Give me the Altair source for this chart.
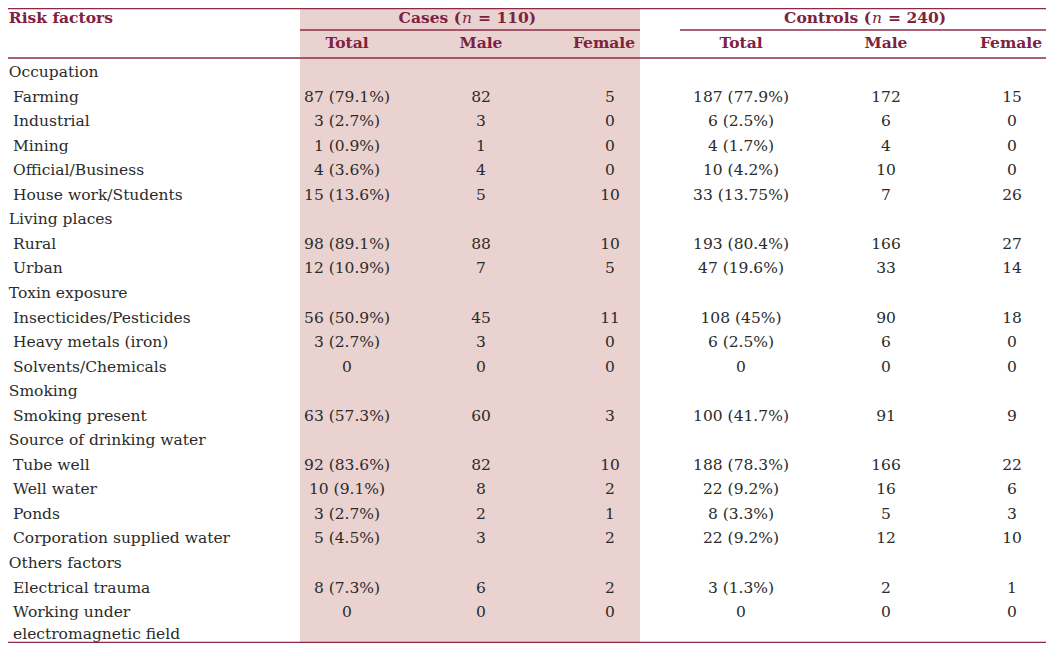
import altair as alt
import pandas as pd

# ---------------- data ----------------
risk_factors = [
    "Occupation", "Farming", "Industrial", "Mining", "Official/Business",
    "House work/Students", "Living places", "Rural", "Urban", "Toxin exposure",
    "Insecticides/Pesticides", "Heavy metals (iron)", "Solvents/Chemicals",
    "Smoking", "Smoking present", "Source of drinking water", "Tube well",
    "Well water", "Ponds", "Corporation supplied water", "Others factors",
    "Electrical trauma", "Working under", "electromagnetic field",
]
is_group = [1, 0, 0, 0, 0, 0, 1, 0, 0, 1, 0, 0, 0, 1, 0, 1, 0, 0, 0, 0, 1, 0, 0, 0]
is_continuation = [0] * 23 + [1]

cases_total = ["", "87 (79.1%)", "3 (2.7%)", "1 (0.9%)", "4 (3.6%)", "15 (13.6%)",
               "", "98 (89.1%)", "12 (10.9%)", "", "56 (50.9%)", "3 (2.7%)", "0",
               "", "63 (57.3%)", "", "92 (83.6%)", "10 (9.1%)", "3 (2.7%)", "5 (4.5%)",
               "", "8 (7.3%)", "0", ""]
cases_male = ["", "82", "3", "1", "4", "5", "", "88", "7", "", "45", "3", "0",
              "", "60", "", "82", "8", "2", "3", "", "6", "0", ""]
cases_female = ["", "5", "0", "0", "0", "10", "", "10", "5", "", "11", "0", "0",
                "", "3", "", "10", "2", "1", "2", "", "2", "0", ""]
controls_total = ["", "187 (77.9%)", "6 (2.5%)", "4 (1.7%)", "10 (4.2%)", "33 (13.75%)",
                  "", "193 (80.4%)", "47 (19.6%)", "", "108 (45%)", "6 (2.5%)", "0",
                  "", "100 (41.7%)", "", "188 (78.3%)", "22 (9.2%)", "8 (3.3%)", "22 (9.2%)",
                  "", "3 (1.3%)", "0", ""]
controls_male = ["", "172", "6", "4", "10", "7", "", "166", "33", "", "90", "6", "0",
                 "", "91", "", "166", "16", "5", "12", "", "2", "0", ""]
controls_female = ["", "15", "0", "0", "0", "26", "", "27", "14", "", "18", "0", "0",
                   "", "9", "", "22", "6", "3", "10", "", "1", "0", ""]

sub_headers = ["Total", "Male", "Female", "Total", "Male", "Female"]
group_headers = [("Cases (", "n", "= 110)"), ("Controls (", "n", "= 240)")]
corner_header = "Risk factors"

# ---------------- layout (table units = reference pixels) ----------------
COL_X = [347, 481, 610, 741, 886, 1012]
HEAD_X = [347, 481, 604, 741, 886, 1011]
GROUP_N_X = [467, 877]
HEAD_Y1, HEAD_Y2 = 17.5, 43
ROW0, ROW_STEP, WRAP_STEP = 72, 24.55, 22
BODY_FONT = "DejaVu Serif"
FS = 15.5
TEXT_COLOR = "#2b2b2b"
HEAD_COLOR = "#7d2240"
RULE_COLOR = "#8c2a46"
BAND_COLOR = "#ead2d0"

row_y = []
y = ROW0
for i in range(len(risk_factors)):
    if i > 0:
        y += WRAP_STEP if is_continuation[i] else ROW_STEP
    row_y.append(y)

# piecewise scales: interior maps 1:1 onto the page, edges squeezed into the 8px body margin
xs = alt.Scale(domain=[0, 9, 1045, 1054], range=[0, 1, 1037, 1038], nice=False, zero=False)
ys = alt.Scale(domain=[2, 12, 640, 650], range=[0.5, 4, 632, 634.5], nice=False, zero=False)

lab = pd.DataFrame({
    "text": risk_factors,
    "x": [7 if g else 13 for g in is_group],
    "y": row_y,
})

cols = [cases_total, cases_male, cases_female, controls_total, controls_male, controls_female]
cells = []
for ci, col in enumerate(cols):
    for ri, v in enumerate(col):
        if v:
            cells.append({"text": v, "x": COL_X[ci], "y": row_y[ri]})
cells = pd.DataFrame(cells)

sub = pd.DataFrame({"text": sub_headers, "x": HEAD_X, "y": [HEAD_Y2] * 6})

band = pd.DataFrame([{"x": 300, "x2": 640, "y": 3, "y2": 649}])

rules = pd.DataFrame([
    {"x": 0, "x2": 1054, "y": 2},
    {"x": 300, "x2": 640, "y": 30},
    {"x": 680, "x2": 1054, "y": 30},
    {"x": 0, "x2": 1054, "y": 58},
    {"x": 0, "x2": 1054, "y": 649.5},
])


def X(f="x"):
    return alt.X(f"{f}:Q", scale=xs, axis=None)


def Y(f="y"):
    return alt.Y(f"{f}:Q", scale=ys, axis=None)


band_layer = alt.Chart(band).mark_rect(color=BAND_COLOR).encode(
    x=X(), x2="x2:Q", y=Y(), y2="y2:Q")

rule_layer = alt.Chart(rules).mark_rule(color=RULE_COLOR, strokeWidth=1.3).encode(
    x=X(), x2="x2:Q", y=Y())

label_layer = alt.Chart(lab).mark_text(
    align="left", baseline="middle", font=BODY_FONT, fontSize=FS, color=TEXT_COLOR
).encode(x=X(), y=Y(), text="text:N")

cell_layer = alt.Chart(cells).mark_text(
    align="center", baseline="middle", font=BODY_FONT, fontSize=FS, color=TEXT_COLOR
).encode(x=X(), y=Y(), text="text:N")

sub_layer = alt.Chart(sub).mark_text(
    align="center", baseline="middle", font=BODY_FONT, fontSize=FS,
    fontWeight="bold", color=HEAD_COLOR
).encode(x=X(), y=Y(), text="text:N")

corner = pd.DataFrame([{"text": corner_header, "x": 7, "y": HEAD_Y1}])
corner_layer = alt.Chart(corner).mark_text(
    align="left", baseline="middle", font=BODY_FONT, fontSize=FS,
    fontWeight="bold", color=HEAD_COLOR
).encode(x=X(), y=Y(), text="text:N")

gh_left = pd.DataFrame([{"text": g[0], "x": nx - 6, "y": HEAD_Y1} for g, nx in zip(group_headers, GROUP_N_X)])
gh_n = pd.DataFrame([{"text": g[1], "x": nx, "y": HEAD_Y1} for g, nx in zip(group_headers, GROUP_N_X)])
gh_right = pd.DataFrame([{"text": g[2], "x": nx + 11, "y": HEAD_Y1} for g, nx in zip(group_headers, GROUP_N_X)])

gh_layers = [
    alt.Chart(gh_left).mark_text(align="right", baseline="middle", font=BODY_FONT, fontSize=FS,
                                 fontWeight="bold", color=HEAD_COLOR).encode(x=X(), y=Y(), text="text:N"),
    alt.Chart(gh_n).mark_text(align="center", baseline="middle", font=BODY_FONT, fontSize=FS,
                              fontStyle="italic", color=HEAD_COLOR).encode(x=X(), y=Y(), text="text:N"),
    alt.Chart(gh_right).mark_text(align="left", baseline="middle", font=BODY_FONT, fontSize=FS,
                                  fontWeight="bold", color=HEAD_COLOR).encode(x=X(), y=Y(), text="text:N"),
]

chart = alt.layer(
    band_layer, rule_layer, label_layer, cell_layer, sub_layer, corner_layer, *gh_layers
).properties(
    width=1038, height=635,
    autosize=alt.AutoSizeParams(type="none"),
    padding=0,
).configure_view(stroke=None)

chart.save("out.html", embed_options={"renderer": "svg", "actions": False})
